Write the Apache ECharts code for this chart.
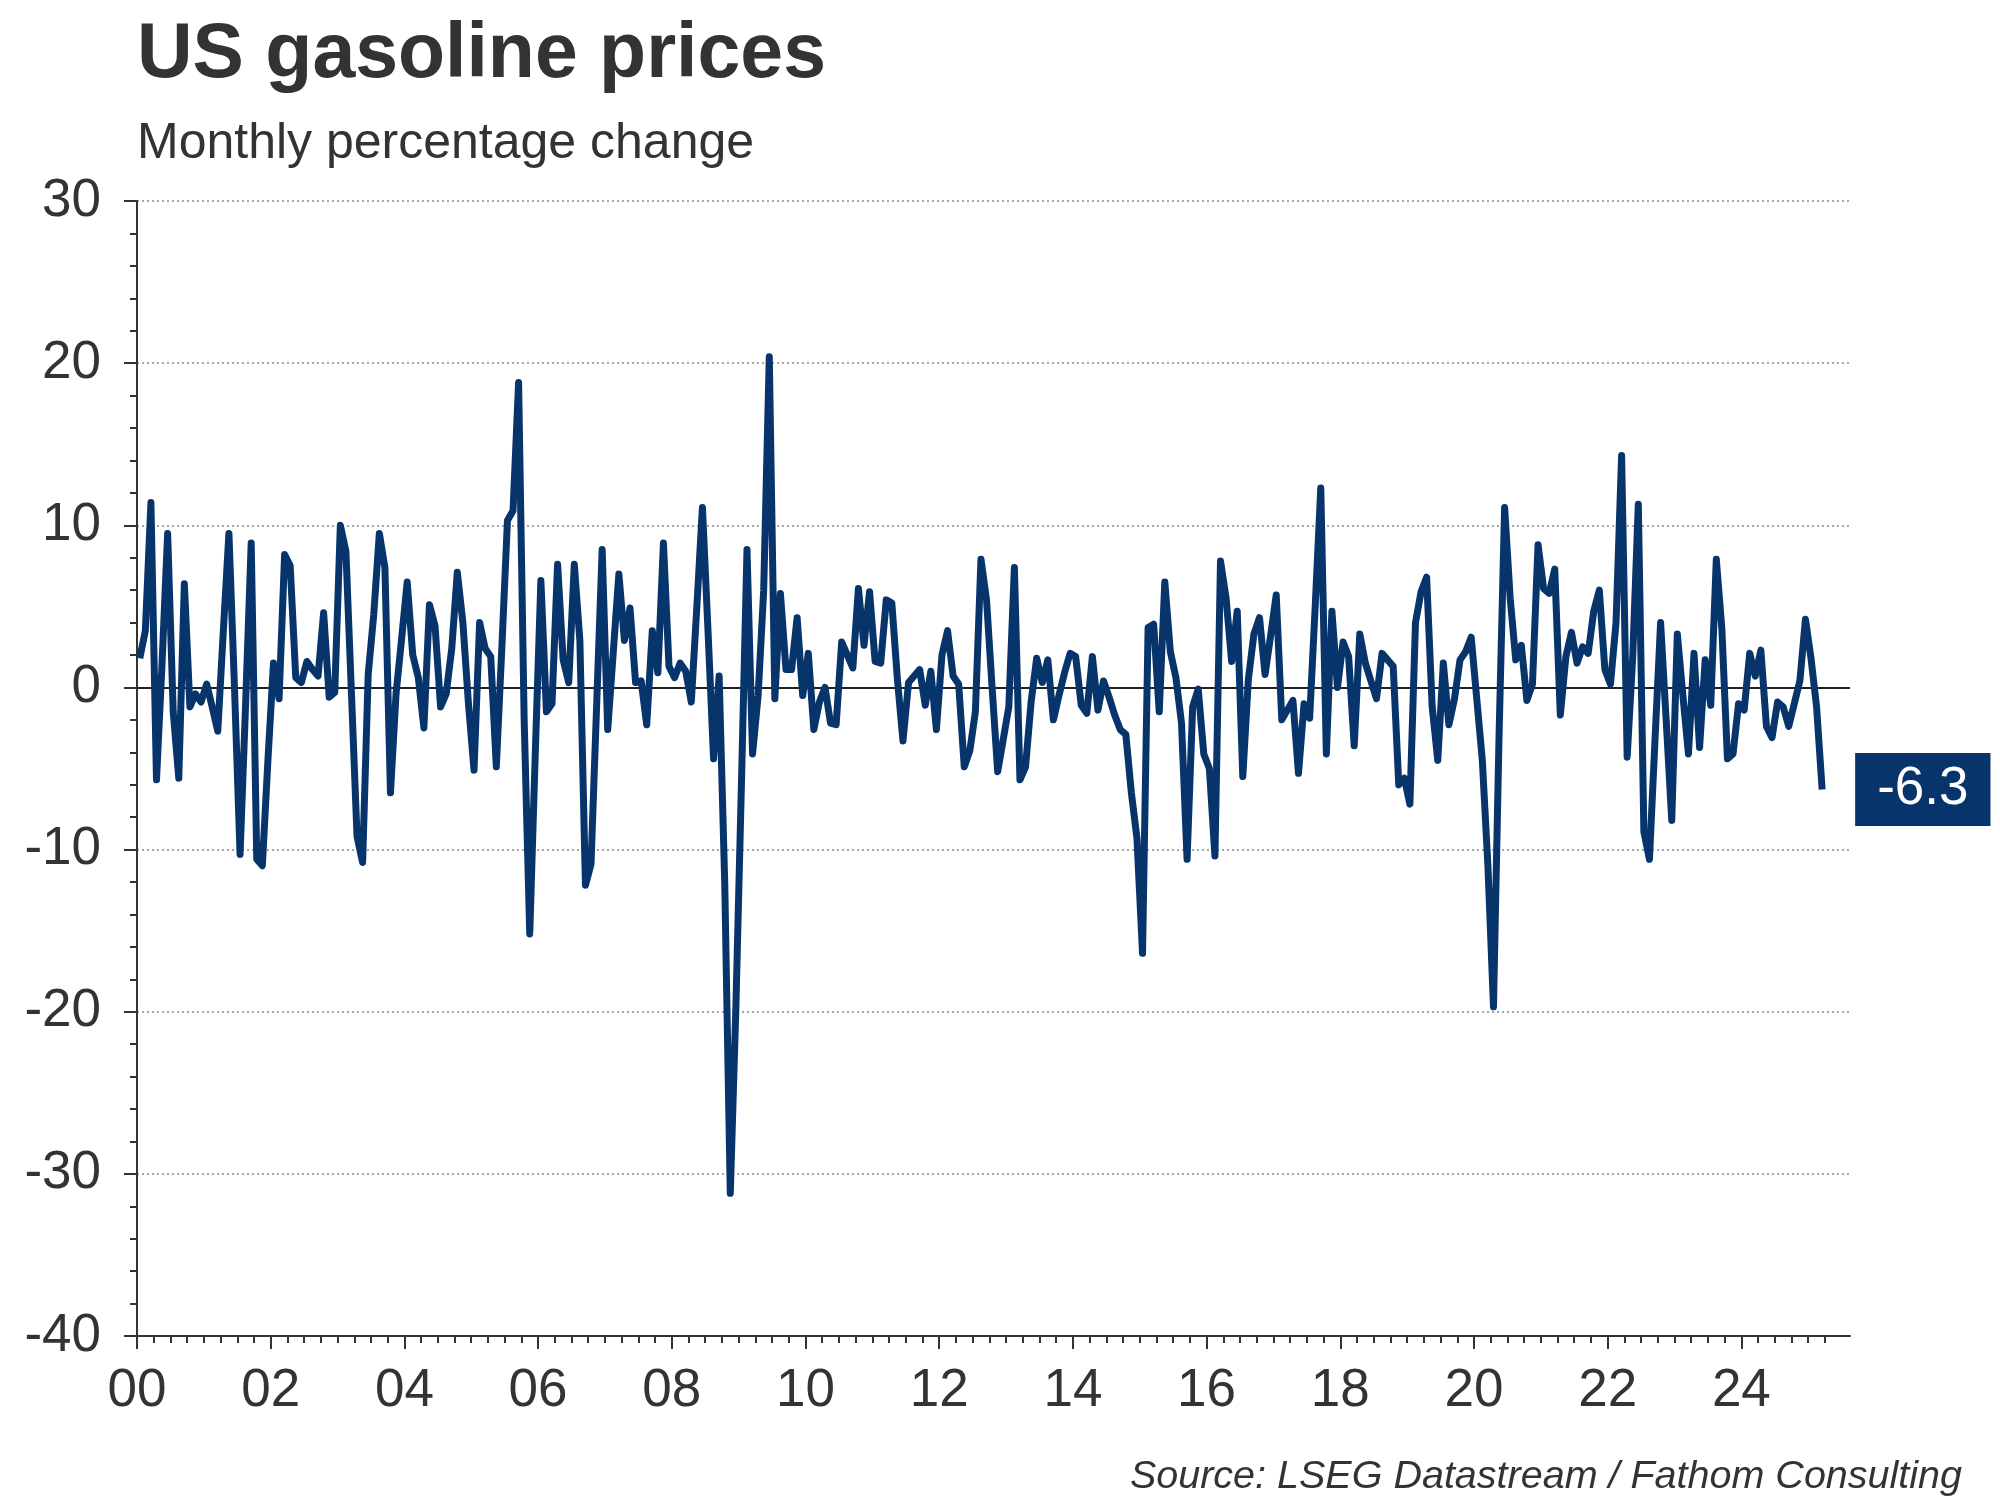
<!DOCTYPE html>
<html>
<head>
<meta charset="utf-8">
<title>US gasoline prices</title>
<script src="https://cdn.jsdelivr.net/npm/echarts@6/dist/echarts.min.js"></script>
<style>
  html, body { margin: 0; padding: 0; background: #fff; }
  #chart { width: 2000px; height: 1500px; }
</style>
</head>
<body>
<div id="chart"></div>
<script>
// monthly % change, Jan..Dec of each year
const y2000 = [1.8, 3.5, 11.4, -5.7, 1.5, 9.5, -1.5, -5.6, 6.4, -1.2, -0.4, -0.9];
const y2001 = [0.2, -1.2, -2.7, 3.5, 9.5, 0.0, -10.3, -1.0, 8.9, -10.6, -11.0, -4.5];
const y2002 = [1.5, -0.7, 8.2, 7.5, 0.6, 0.3, 1.6, 1.1, 0.7, 4.6, -0.6, -0.3];
const y2003 = [10.0, 8.4, -0.4, -9.2, -10.8, 0.8, 4.5, 9.5, 7.4, -6.5, -0.4, 3.0];
const y2004 = [6.5, 2.0, 0.6, -2.5, 5.1, 3.8, -1.2, -0.4, 2.4, 7.1, 4.0, -1.0];
const y2005 = [-5.1, 4.0, 2.4, 1.9, -4.9, 2.5, 10.3, 10.9, 18.8, -2.0, -15.2, -4.0];
const y2006 = [6.6, -1.5, -1.0, 7.6, 1.7, 0.3, 7.6, 2.9, -12.2, -10.9, -1.2, 8.5];
const y2007 = [-2.6, 2.2, 7.0, 2.9, 4.9, 0.3, 0.4, -2.3, 3.5, 0.9, 8.9, 1.3];
const y2008 = [0.6, 1.5, 1.0, -0.9, 5.0, 11.1, 3.5, -4.4, 0.7, -12.0, -31.2, -19.8];
const y2009 = [-6.0, 8.5, -4.1, -0.5, 6.0, 20.4, -0.7, 5.8, 1.1, 1.1, 4.3, -0.5];
const y2010 = [2.1, -2.6, -0.9, 0.0, -2.2, -2.3, 2.8, 2.0, 1.2, 6.1, 2.6, 5.9];
const y2011 = [1.6, 1.5, 5.4, 5.2, 0.5, -3.3, 0.3, 0.7, 1.1, -1.1, 1.0, -2.6];
const y2012 = [2.0, 3.5, 0.7, 0.2, -4.9, -3.9, -1.5, 7.9, 5.4, 0.0, -5.2, -3.2];
const y2013 = [-1.2, 7.4, -5.7, -4.9, -0.9, 1.8, 0.3, 1.7, -2.0, -0.5, 0.9, 2.1];
const y2014 = [1.9, -1.1, -1.6, 1.9, -1.4, 0.4, -0.6, -1.7, -2.6, -2.9, -6.5, -9.3];
const y2015 = [-16.4, 3.7, 3.9, -1.5, 6.5, 2.2, 0.6, -2.2, -10.6, -1.2, -0.1, -4.1];
const y2016 = [-5.0, -10.4, 7.8, 5.5, 1.6, 4.7, -5.5, 0.5, 3.3, 4.3, 0.8, 3.2];
const y2017 = [5.7, -2.0, -1.4, -0.8, -5.3, -1.0, -1.9, 5.0, 12.3, -4.1, 4.7, 0.0];
const y2018 = [2.8, 1.9, -3.6, 3.3, 1.5, 0.4, -0.7, 2.1, 1.7, 1.3, -6.0, -5.6];
const y2019 = [-7.2, 4.0, 5.9, 6.8, -1.2, -4.5, 1.5, -2.3, -0.7, 1.7, 2.2, 3.1];
const y2020 = [-0.7, -4.5, -11.0, -19.7, -3.0, 11.1, 5.5, 1.7, 2.6, -0.8, 0.2, 8.8];
const y2021 = [6.1, 5.8, 7.3, -1.7, 1.9, 3.4, 1.5, 2.5, 2.1, 4.7, 6.0, 1.1];
const y2022 = [0.2, 4.0, 14.3, -4.3, 1.9, 11.3, -8.9, -10.6, -3.2, 4.0, -2.0, -8.2];
const y2023 = [3.3, -0.5, -4.1, 2.1, -3.7, 1.7, -1.1, 7.9, 3.6, -4.4, -4.1, -1.0];
const y2024 = [-1.4, 2.1, 0.7, 2.3, -2.4, -3.1, -0.9, -1.2, -2.4, -1.0, 0.4, 4.2];
const y2025 = [1.8, -1.2, -6.3];

const startYear = 2000;
const yearly = [y2000, y2001, y2002, y2003, y2004, y2005, y2006, y2007, y2008,
  y2009, y2010, y2011, y2012, y2013, y2014, y2015, y2016, y2017, y2018, y2019,
  y2020, y2021, y2022, y2023, y2024, y2025];

// axis range and tick positions (years)
const xMin = 2000;
const xMax = 2025.625;
const labelYears = [2000, 2002, 2004, 2006, 2008, 2010, 2012, 2014, 2016, 2018, 2020, 2022, 2024];

// each month sits in the middle of its slot on a year scale
let points = [];
yearly.forEach((vals, i) => {
  vals.forEach((v, m) => {
    points.push([startYear + i + (m + 0.5) / 12, v]);
  });
});

// quarterly minor ticks, skipping the labelled years
let quarterTicks = [];
for (let q = xMin; q <= 2025.25; q += 0.25) {
  if (labelYears.indexOf(q) < 0) quarterTicks.push(q);
}

const navy = '#07356b';
const ink = '#333333';
const font = 'Liberation Sans, Arial, sans-serif';

const chart = echarts.init(document.getElementById('chart'), null, { renderer: 'canvas' });

chart.setOption({
  animation: false,
  backgroundColor: '#ffffff',
  title: [
    {
      text: 'US gasoline prices',
      left: 132, top: 12,
      textStyle: { fontFamily: font, fontSize: 77, fontWeight: 'bold', color: ink }
    },
    {
      text: 'Monthly percentage change',
      left: 132, top: 114,
      textStyle: { fontFamily: font, fontSize: 50, fontWeight: 'normal', color: ink }
    },
    {
      text: 'Source: LSEG Datastream / Fathom Consulting',
      right: 33, top: 1452,
      textStyle: { fontFamily: font, fontSize: 39.5, fontStyle: 'italic', fontWeight: 'normal', color: ink }
    }
  ],
  grid: { left: 137, right: 150, top: 201, bottom: 164, containLabel: false },
  xAxis: [
    {
      type: 'value',
      min: xMin,
      max: xMax,
      axisLine: { show: true, onZero: false, lineStyle: { color: ink, width: 2 } },
      axisTick: { show: true, length: 13, customValues: labelYears, lineStyle: { color: ink, width: 2 } },
      splitLine: { show: false },
      axisLabel: {
        margin: 29,
        customValues: labelYears,
        fontFamily: font, fontSize: 53, color: ink,
        formatter: v => String(v % 100).padStart(2, '0')
      }
    },
    {
      type: 'value',
      position: 'bottom',
      min: xMin,
      max: xMax,
      axisLine: { show: false, onZero: false },
      axisTick: { show: true, length: 7, customValues: quarterTicks, lineStyle: { color: ink, width: 2 } },
      axisLabel: { show: false },
      splitLine: { show: false }
    }
  ],
  yAxis: {
    type: 'value',
    min: -40,
    max: 30,
    interval: 10,
    axisLine: { show: true, lineStyle: { color: ink, width: 2 } },
    axisTick: { show: true, length: 13, lineStyle: { color: ink, width: 2 } },
    minorTick: { show: true, splitNumber: 5, length: 7, lineStyle: { color: ink, width: 2 } },
    splitLine: { show: true, lineStyle: { type: [2, 3], color: '#8a8a8a', width: 1.5 } },
    axisLabel: { margin: 36, fontFamily: font, fontSize: 53, color: ink }
  },
  series: [
    {
      type: 'line',
      data: points,
      showSymbol: false,
      symbol: 'none',
      lineStyle: { color: navy, width: 7, join: 'round' },
      z: 3,
      endLabel: {
        show: true,
        distance: 33,
        formatter: p => p.value[1].toFixed(1),
        backgroundColor: navy,
        color: '#ffffff',
        fontFamily: font,
        fontSize: 53,
        lineHeight: 55,
        padding: [9, 22, 9, 22]
      },
      markLine: {
        silent: true,
        symbol: 'none',
        z: 2,
        label: { show: false },
        lineStyle: { type: 'solid', color: '#222222', width: 2 },
        data: [{ yAxis: 0 }]
      }
    }
  ]
});
</script>
</body>
</html>
